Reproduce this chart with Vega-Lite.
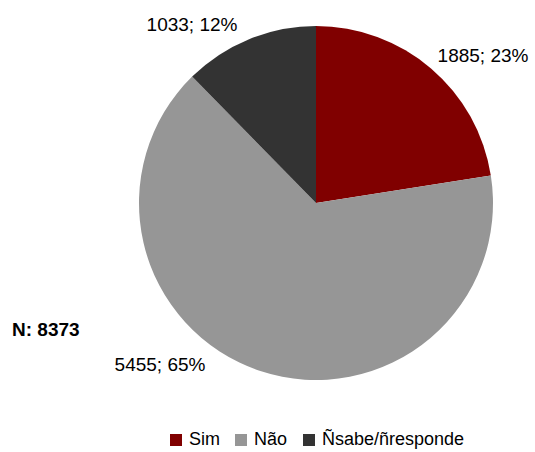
{
  "$schema": "https://vega.github.io/schema/vega-lite/v6.json",
  "width": 354,
  "height": 354,
  "autosize": {"type": "none"},
  "padding": {"left": 139, "top": 26, "right": 42, "bottom": 72},
  "background": "white",
  "config": {"view": {"stroke": null}, "font": "Liberation Sans"},
  "data": {
    "values": [
      {"resposta": "Sim", "n": 1885, "ordem": 1, "rotulo": "1885; 23%"},
      {"resposta": "Não", "n": 5455, "ordem": 2, "rotulo": "5455; 65%"},
      {"resposta": "Ñsabe/ñresponde", "n": 1033, "ordem": 3, "rotulo": "1033; 12%"}
    ]
  },
  "layer": [
    {
      "mark": {"type": "arc", "outerRadius": 177},
      "encoding": {
        "theta": {"field": "n", "type": "quantitative", "stack": true},
        "order": {"field": "ordem", "type": "ordinal"},
        "color": {
          "field": "resposta",
          "type": "nominal",
          "scale": {"domain": ["Sim", "Não", "Ñsabe/ñresponde"], "range": ["#800000", "#969696", "#333333"]},
          "legend": {
            "title": null,
            "orient": "none",
            "direction": "horizontal",
            "legendX": 28,
            "legendY": 405,
            "symbolType": "square",
            "symbolSize": 144,
            "symbolStrokeWidth": 0,
            "labelFontSize": 18,
            "labelColor": "#000000",
            "labelOffset": 4,
            "columnPadding": 12,
            "labelFont": "Liberation Sans"
          }
        }
      }
    },
    {
      "transform": [{"filter": "datum.resposta === 'Sim'"}],
      "mark": {"type": "text", "fontSize": 19, "dx": 167, "dy": -147, "color": "#000000"},
      "encoding": {"text": {"field": "rotulo"}}
    },
    {
      "transform": [{"filter": "datum.resposta === 'Não'"}],
      "mark": {"type": "text", "fontSize": 19, "dx": -156, "dy": 162, "color": "#000000"},
      "encoding": {"text": {"field": "rotulo"}}
    },
    {
      "transform": [{"filter": "datum.resposta === 'Ñsabe/ñresponde'"}],
      "mark": {"type": "text", "fontSize": 19, "dx": -124, "dy": -178, "color": "#000000"},
      "encoding": {"text": {"field": "rotulo"}}
    },
    {
      "data": {"values": [{"texto": "N: 8373"}]},
      "mark": {"type": "text", "fontSize": 19, "fontWeight": "bold", "align": "left", "dx": -304, "dy": 127, "color": "#000000"},
      "encoding": {"text": {"field": "texto"}}
    }
  ]
}
